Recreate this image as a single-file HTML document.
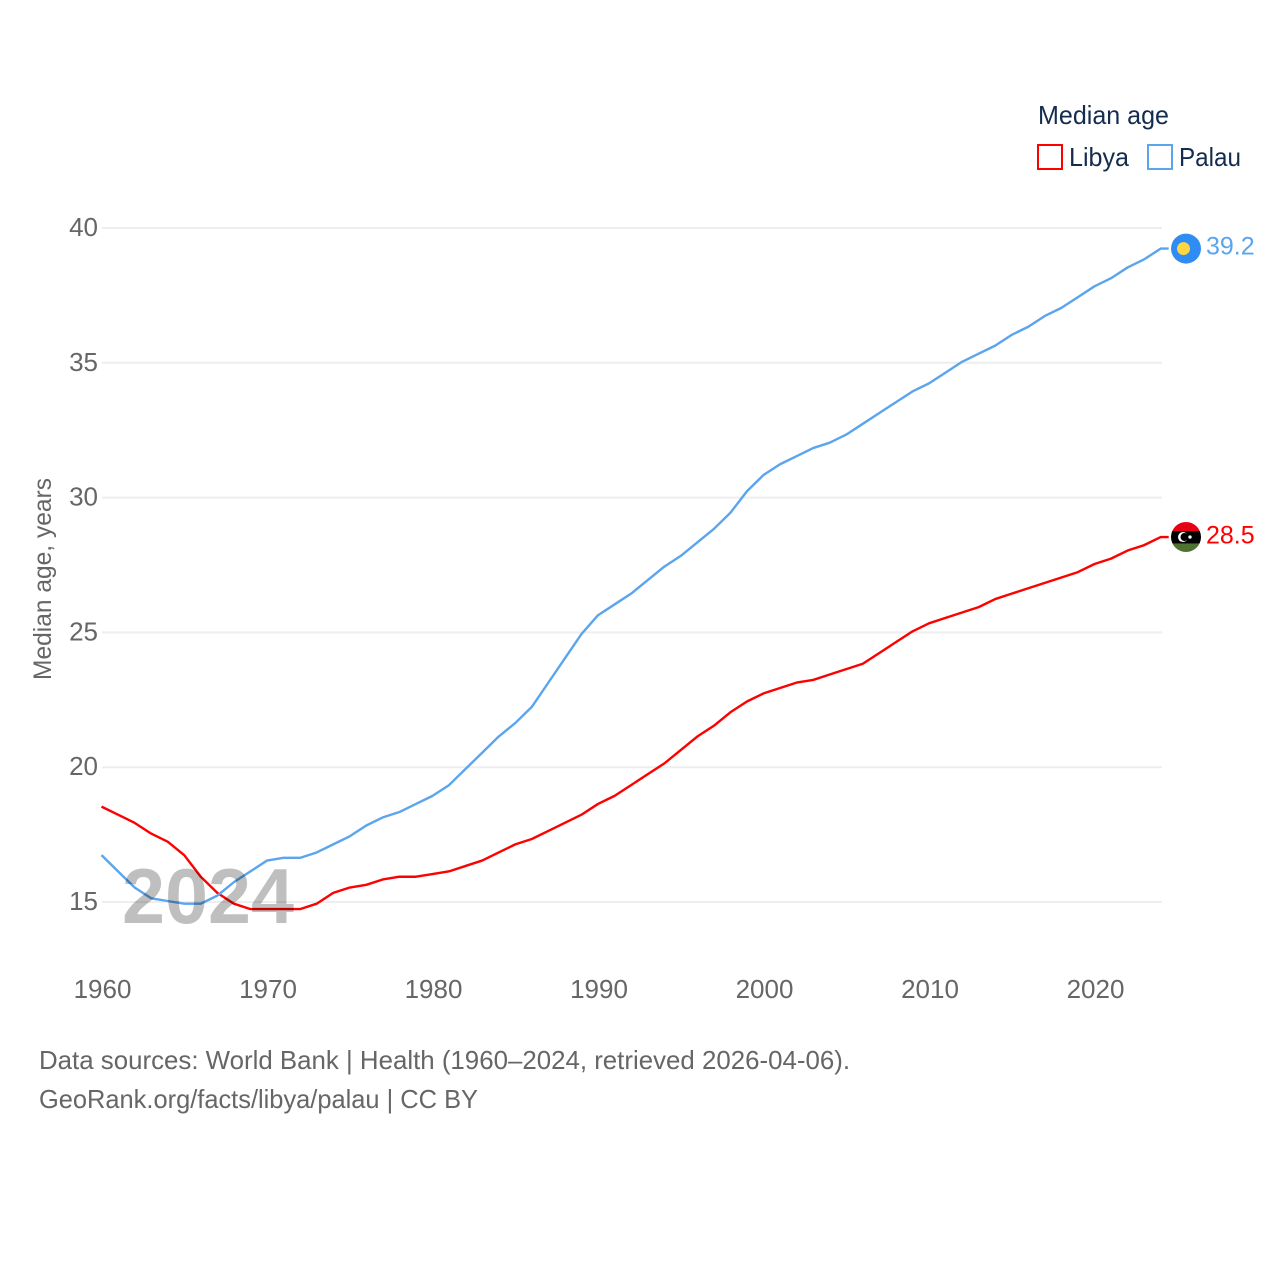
<!DOCTYPE html>
<html lang="en">
<head>
<meta charset="utf-8">
<title>Median age: Libya and Palau</title>
<style>
html,body{margin:0;padding:0;background:#fff;}
svg{display:block;}
text{font-family:"Liberation Sans",sans-serif;}
</style>
</head>
<body>
<svg id="chart" xmlns="http://www.w3.org/2000/svg" width="1280" height="1280" viewBox="0 0 1280 1280">
  <rect x="0" y="0" width="1280" height="1280" fill="#fff"/>
  <g id="grid"></g>
  <g id="yticks"></g>
  <g id="xticks"></g>
  <text transform="translate(51,680) rotate(-90)" font-size="25" fill="#666" textLength="202" lengthAdjust="spacingAndGlyphs">Median age, years</text>
  <g id="series"></g>
  <text x="122" y="923" font-size="78" font-weight="bold" fill="#000" fill-opacity="0.25" textLength="172" lengthAdjust="spacingAndGlyphs">2024</text>
  <g id="ends"></g>

  <g>
    <text x="1038" y="124" font-size="26" fill="#142c4e" textLength="131" lengthAdjust="spacingAndGlyphs">Median age</text>
    <g>
      <rect x="1038" y="145" width="24" height="24" fill="#fff" stroke="#ff0000" stroke-width="2"/>
      <text x="1069" y="166" font-size="26" fill="#142c4e" textLength="60" lengthAdjust="spacingAndGlyphs">Libya</text>
    </g>
    <g>
      <rect x="1148" y="145" width="24" height="24" fill="#fff" stroke="#5ba4ee" stroke-width="2"/>
      <text x="1179" y="166" font-size="26" fill="#142c4e" textLength="62" lengthAdjust="spacingAndGlyphs">Palau</text>
    </g>
  </g>

  <g>
    <text x="39" y="1069" font-size="26" fill="#666" textLength="811" lengthAdjust="spacingAndGlyphs">Data sources: World Bank | Health (1960–2024, retrieved 2026-04-06).</text>
    <text x="39" y="1108" font-size="26" fill="#666" textLength="439" lengthAdjust="spacingAndGlyphs">GeoRank.org/facts/libya/palau | CC BY</text>
  </g>
</svg>
<script>
const startYear = 1960;
const xTickYears = [1960, 1970, 1980, 1990, 2000, 2010, 2020];
const yTickValues = [15, 20, 25, 30, 35, 40];
const libyaValues = [18.5,18.2,17.9,17.5,17.2,16.7,15.9,15.3,14.9,14.7,14.7,14.7,14.7,14.9,15.3,15.5,15.6,15.8,15.9,15.9,16.0,16.1,16.3,16.5,16.8,17.1,17.3,17.6,17.9,18.2,18.6,18.9,19.3,19.7,20.1,20.6,21.1,21.5,22.0,22.4,22.7,22.9,23.1,23.2,23.4,23.6,23.8,24.2,24.6,25.0,25.3,25.5,25.7,25.9,26.2,26.4,26.6,26.8,27.0,27.2,27.5,27.7,28.0,28.2,28.5];
const palauValues = [16.7,16.1,15.5,15.1,15.0,14.9,14.9,15.2,15.7,16.1,16.5,16.6,16.6,16.8,17.1,17.4,17.8,18.1,18.3,18.6,18.9,19.3,19.9,20.5,21.1,21.6,22.2,23.1,24.0,24.9,25.6,26.0,26.4,26.9,27.4,27.8,28.3,28.8,29.4,30.2,30.8,31.2,31.5,31.8,32.0,32.3,32.7,33.1,33.5,33.9,34.2,34.6,35.0,35.3,35.6,36.0,36.3,36.7,37.0,37.4,37.8,38.1,38.5,38.8,39.2];

const NS = 'http://www.w3.org/2000/svg';
const xScale = year => 101.5 + (year - 1960) * 16.55;
const yScale = value => 902 - (value - 15) * 26.96;
const lineY = value => yScale(value) - 1;

function make(tag, parent, props) {
  const el = document.createElementNS(NS, tag);
  for (const k in props) el.setAttribute(k, props[k]);
  parent.appendChild(el);
  return el;
}

const grid = document.getElementById('grid');
const yticks = document.getElementById('yticks');
yTickValues.forEach(v => {
  const line = make('line', grid, {x1: 102, x2: 1162, y1: yScale(v), y2: yScale(v), stroke: '#eeeeee', 'stroke-width': 2});
  
  
  const t = make('text', yticks, {x: 98, y: yScale(v) + 8, 'text-anchor': 'end', 'font-size': 26, fill: '#666'});
  
  
  t.textContent = v;
});

const xticks = document.getElementById('xticks');
xTickYears.forEach(y => {
  const t = make('text', xticks, {x: xScale(y) + 1, y: 998, 'text-anchor': 'middle', 'font-size': 26, fill: '#666'});
  
  
  t.textContent = y;
});

function pathFor(values) {
  let d = values.map((v, i) => (i ? 'L' : 'M') + xScale(startYear + i).toFixed(2) + ' ' + lineY(v).toFixed(2)).join(' ');
  const last = values[values.length - 1];
  d += ' L' + (xScale(startYear + values.length - 1) + 8).toFixed(2) + ' ' + lineY(last).toFixed(2);
  return d;
}

const series = document.getElementById('series');
const libyaLine = make('path', series, {d: pathFor(libyaValues), fill: 'none', stroke: '#ff0000', 'stroke-width': 2.4, 'stroke-linejoin': 'round'});


const palauLine = make('path', series, {d: pathFor(palauValues), fill: 'none', stroke: '#5ba4ee', 'stroke-width': 2.4, 'stroke-linejoin': 'round'});



const ends = document.getElementById('ends');
const cx = 1186;

// Palau flag marker
const palauLast = palauValues[palauValues.length - 1];
const py = lineY(palauLast);
const palauFlag = make('g', ends, {});


make('circle', palauFlag, {cx: cx, cy: py, r: 15, fill: '#2f8cf3'});
make('circle', palauFlag, {cx: cx - 2.5, cy: py, r: 6.5, fill: '#ffd63f'});
const palauLabel = make('text', ends, {x: 1206, y: py + 6, 'font-size': 25, fill: '#5ba4ee'});


palauLabel.textContent = palauLast.toFixed(1);

// Libya flag marker
const libyaLast = libyaValues[libyaValues.length - 1];
const ly = lineY(libyaLast);
const clip = make('clipPath', ends, {id: 'libya-clip'});
make('circle', clip, {cx: cx, cy: ly, r: 15});
const libyaFlag = make('g', ends, {'clip-path': 'url(#libya-clip)'});


make('rect', libyaFlag, {x: cx - 15, y: ly - 15, width: 30, height: 9, fill: '#e70013'});
make('rect', libyaFlag, {x: cx - 15, y: ly - 6, width: 30, height: 12.5, fill: '#000'});
make('rect', libyaFlag, {x: cx - 15, y: ly + 6.5, width: 30, height: 9, fill: '#4e7330'});
make('circle', libyaFlag, {cx: cx - 3, cy: ly, r: 5, fill: '#fff'});
make('circle', libyaFlag, {cx: cx - 1.5, cy: ly, r: 4, fill: '#000'});
make('circle', libyaFlag, {cx: cx + 4, cy: ly, r: 1.7, fill: '#fff'});
const libyaLabel = make('text', ends, {x: 1206, y: ly + 6.5, 'font-size': 25, fill: '#ff0000'});


libyaLabel.textContent = libyaLast.toFixed(1);
</script>
</body>
</html>
